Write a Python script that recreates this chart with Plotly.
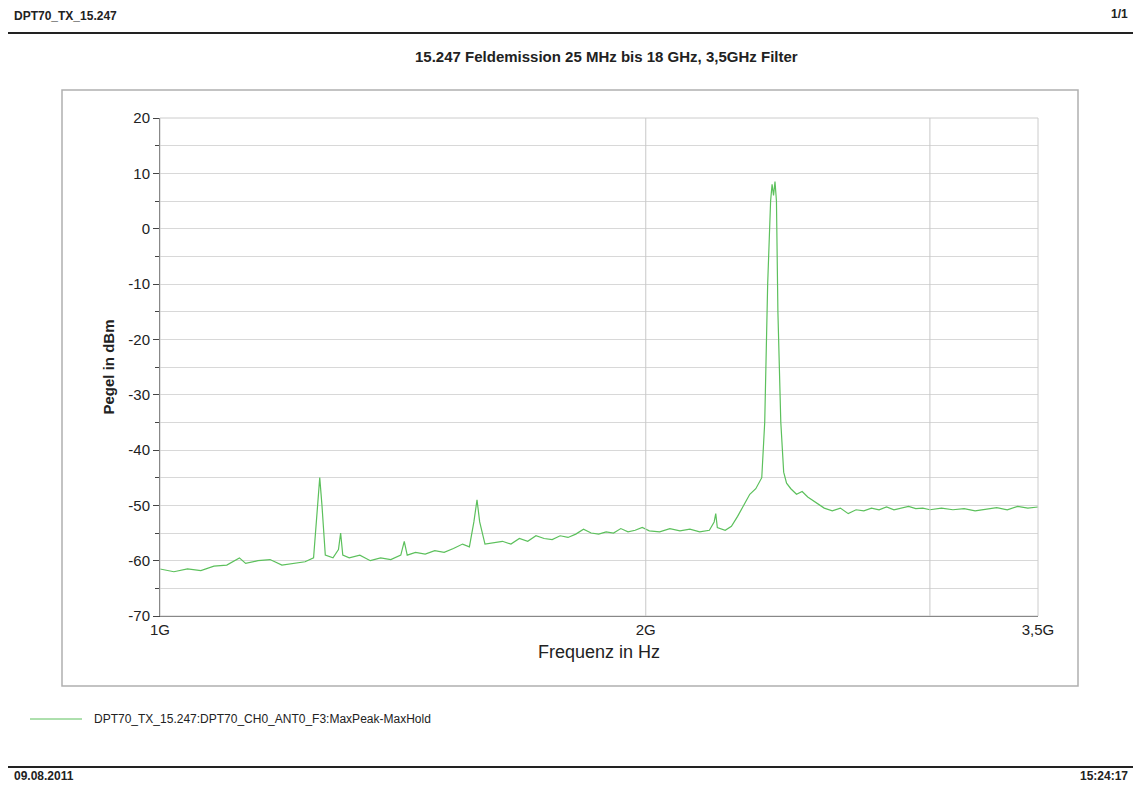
import plotly.graph_objects as go

# frequency in GHz, level in dBm (MaxPeak-MaxHold)
freq_ghz = [1.00, 1.02, 1.04, 1.06, 1.08, 1.10, 1.12, 1.13, 1.15, 1.17, 1.19, 1.21, 1.23,
            1.245, 1.252, 1.256, 1.260, 1.266, 1.28, 1.29, 1.294, 1.298, 1.31, 1.33, 1.35,
            1.37, 1.39, 1.41, 1.417, 1.423, 1.44, 1.46, 1.48, 1.50, 1.52, 1.54, 1.555, 1.565,
            1.572, 1.578, 1.59, 1.61, 1.63, 1.65, 1.67, 1.69, 1.71, 1.73, 1.75, 1.77, 1.79,
            1.81, 1.83, 1.85, 1.87, 1.89, 1.91, 1.93, 1.95, 1.97, 1.99, 2.01, 2.04, 2.07,
            2.10, 2.13, 2.16, 2.19, 2.205, 2.21, 2.215, 2.24, 2.26, 2.28, 2.30, 2.32, 2.34,
            2.36, 2.37, 2.38, 2.39, 2.395, 2.40, 2.405, 2.41, 2.415, 2.425, 2.435, 2.445,
            2.46, 2.48, 2.50, 2.52, 2.55, 2.58, 2.61, 2.64, 2.67, 2.70, 2.73, 2.76, 2.79,
            2.82, 2.85, 2.88, 2.91, 2.94, 2.97, 3.00, 3.05, 3.10, 3.15, 3.20, 3.25, 3.30,
            3.35, 3.40, 3.45, 3.50]
level_dbm = [-61.5, -62, -61.5, -61.8, -61, -60.8, -59.5, -60.5, -60, -59.8, -60.8, -60.5, -60.2,
             -59.5, -50, -45, -50, -59, -59.5, -58, -55, -59, -59.5, -59, -60,
             -59.5, -59.8, -59, -56.5, -59, -58.5, -58.8, -58.2, -58.5, -57.8, -57, -57.5, -53,
             -49, -53, -57, -56.8, -56.5, -57, -56, -56.5, -55.5, -56, -56.2, -55.5, -55.8,
             -55.2, -54.3, -55, -55.2, -54.8, -55, -54.2, -54.8, -54.5, -54, -54.6, -54.8, -54.2,
             -54.6, -54.3, -54.8, -54.5, -53, -51.5, -54, -54.5, -53.8, -52, -50, -48, -47,
             -45, -35, -10, 5, 8, 6, 8.5, 5, -15, -35, -44, -46,
             -47, -48, -47.5, -48.5, -49.5, -50.5, -51, -50.5, -51.5, -50.8, -51, -50.5, -50.8,
             -50.3, -50.8, -50.5, -50.2, -50.6, -50.5, -50.8, -50.5, -50.8, -50.6, -51, -50.7, -50.4,
             -50.8, -50.2, -50.5, -50.3]

x_tickvals = [1, 2, 3.5]
x_ticktext = ["1G", "2G", "3,5G"]
y_tickvals = [20, 10, 0, -10, -20, -30, -40, -50, -60, -70]
y_ticktext = ["20", "10", "0", "-10", "-20", "-30", "-40", "-50", "-60", "-70"]

OFF = 8  # page body margin
W, H = 1141 - 2 * OFF, 792 - 2 * OFF
L, R, T, B = 160 - OFF, 1038 - OFF, 118 - OFF, 616 - OFF
FONT = "Liberation Sans"
GREEN = "#5cc05c"


def px(x):
    return (x - OFF - L) / (R - L)


def py(y):
    return (B - (y - OFF)) / (B - T)


fig = go.Figure()
fig.add_trace(go.Scatter(x=freq_ghz, y=level_dbm, mode="lines",
                         line=dict(color=GREEN, width=1.2), showlegend=False))

fig.update_xaxes(type="log", range=[0, 0.5441], tickvals=x_tickvals, ticktext=x_ticktext,
                 showgrid=False, zeroline=False, ticks="", showline=True, linecolor="#444",
                 tickfont=dict(size=15, color="#222"),
                 title=dict(text="Frequenz in Hz", font=dict(size=18, color="#222"), standoff=8))
fig.update_yaxes(range=[-70, 20], tickvals=y_tickvals, ticktext=y_ticktext,
                 showgrid=True, gridcolor="#d8d8d8",
                 minor=dict(dtick=5, showgrid=True, gridcolor="#d8d8d8", ticks="outside", ticklen=4),
                 zeroline=False, ticks="outside", ticklen=6, showline=True, linecolor="#444",
                 tickfont=dict(size=15, color="#222"),
                 title=dict(text="<b>Pegel in dBm</b>", font=dict(size=15, color="#222"), standoff=10))

shapes = []
for g in [2, 3]:
    shapes.append(dict(type="line", xref="x", yref="paper", x0=g, x1=g, y0=0, y1=1,
                       line=dict(color="#c8c8c8", width=1)))
shapes.append(dict(type="rect", xref="paper", yref="paper", x0=0, x1=1, y0=0, y1=1,
                   line=dict(color="#cccccc", width=1)))
shapes.append(dict(type="rect", xref="paper", yref="paper", x0=px(62), x1=px(1078),
                   y0=py(686), y1=py(90), line=dict(color="#b0b0b0", width=1.5)))
shapes.append(dict(type="line", xref="paper", yref="paper", x0=px(8), x1=px(1133),
                   y0=py(33), y1=py(33), line=dict(color="#222", width=2)))
shapes.append(dict(type="line", xref="paper", yref="paper", x0=px(8), x1=px(1133),
                   y0=py(767), y1=py(767), line=dict(color="#222", width=2)))
shapes.append(dict(type="line", xref="paper", yref="paper", x0=px(30), x1=px(82),
                   y0=py(719), y1=py(719), line=dict(color=GREEN, width=1)))

ann = [
    dict(text="<b>DPT70_TX_15.247</b>", x=px(12), y=py(16), xanchor="left", size=12),
    dict(text="<b>1/1</b>", x=px(1130), y=py(14), xanchor="right", size=12),
    dict(text="<b>15.247 Feldemission 25 MHz bis 18 GHz, 3,5GHz Filter</b>", x=px(606), y=py(56),
         xanchor="center", size=15),
    dict(text="DPT70_TX_15.247:DPT70_CH0_ANT0_F3:MaxPeak-MaxHold", x=px(92), y=py(719),
         xanchor="left", size=12),
    dict(text="<b>09.08.2011</b>", x=px(12), y=py(776), xanchor="left", size=12),
    dict(text="<b>15:24:17</b>", x=px(1130), y=py(776), xanchor="right", size=12),
]
annotations = [dict(text=a["text"], x=a["x"], y=a["y"], xref="paper", yref="paper",
                    xanchor=a["xanchor"], yanchor="middle", showarrow=False,
                    font=dict(family=FONT, size=a["size"], color="#222")) for a in ann]

fig.update_layout(width=W, height=H, autosize=False,
                  margin=dict(l=L, r=W - R, t=T, b=H - B),
                  plot_bgcolor="white", paper_bgcolor="white",
                  font=dict(family=FONT), shapes=shapes, annotations=annotations)

fig.write_html("out.html")
